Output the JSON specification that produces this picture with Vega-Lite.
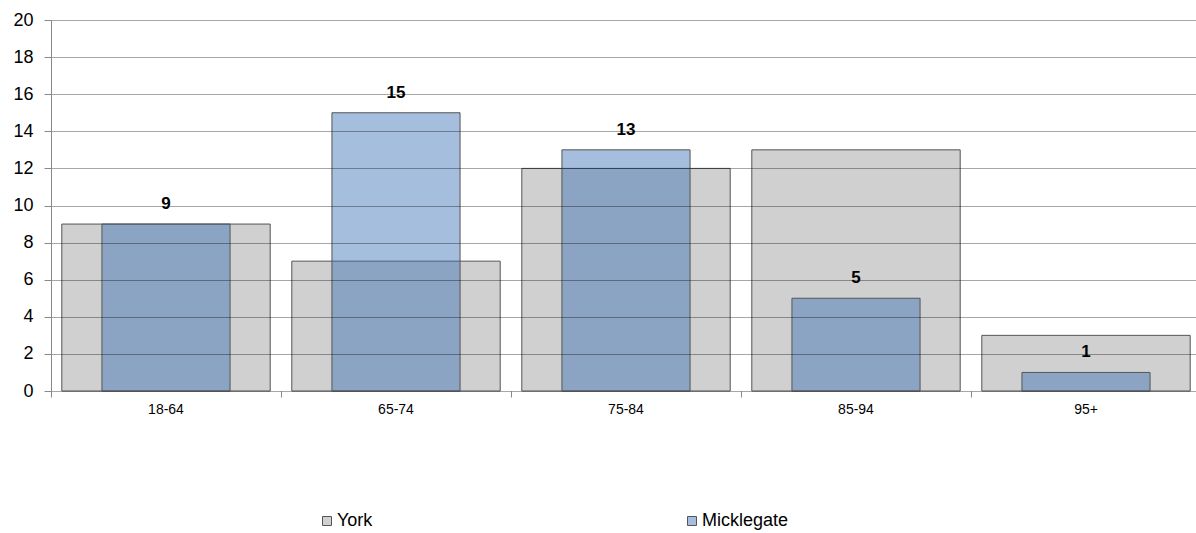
{
  "$schema": "https://vega.github.io/schema/vega-lite/v6.json",
  "autosize": {"type": "none"},
  "width": 1145,
  "height": 371,
  "padding": {"left": 51, "top": 20, "right": 0, "bottom": 142},
  "background": "white",
  "config": {
    "font": "Liberation Sans",
    "view": {"stroke": null}
  },
  "data": {
    "values": [
      {"age": "18-64", "series": "York", "value": 9},
      {"age": "65-74", "series": "York", "value": 7},
      {"age": "75-84", "series": "York", "value": 12},
      {"age": "85-94", "series": "York", "value": 13},
      {"age": "95+", "series": "York", "value": 3},
      {"age": "18-64", "series": "Micklegate", "value": 9},
      {"age": "65-74", "series": "Micklegate", "value": 15},
      {"age": "75-84", "series": "Micklegate", "value": 13},
      {"age": "85-94", "series": "Micklegate", "value": 5},
      {"age": "95+", "series": "Micklegate", "value": 1}
    ]
  },
  "resolve": {"axis": {"x": "independent"}},
  "encoding": {
    "y": {
      "field": "value",
      "type": "quantitative",
      "scale": {"domain": [0, 20], "nice": false},
      "axis": {
        "title": null,
        "values": [0, 2, 4, 6, 8, 10, 12, 14, 16, 18, 20],
        "labelFontSize": 18,
        "labelColor": "#000000",
        "labelPadding": 11,
        "tickSize": 7,
        "tickColor": "#888888",
        "domainColor": "#888888",
        "grid": true,
        "gridColor": "#000000",
        "gridOpacity": 0.35,
        "zindex": 1
      }
    }
  },
  "layer": [
    {
      "transform": [{"filter": "datum.series === 'York'"}],
      "mark": {"type": "bar", "width": {"band": 0.906}, "stroke": "#555555", "strokeWidth": 1, "fillOpacity": 1},
      "encoding": {
        "x": {
          "field": "age",
          "type": "nominal",
          "sort": ["18-64", "65-74", "75-84", "85-94", "95+"],
          "scale": {"paddingInner": 0, "paddingOuter": 0, "range": [0, 1150]},
          "axis": {
            "orient": "bottom",
            "title": null,
            "labelAngle": 0,
            "labelFontSize": 14,
            "labelColor": "#000000",
            "labelPadding": 11,
            "ticks": false,
            "domain": false,
            "grid": false
          }
        },
        "color": {
          "field": "series",
          "type": "nominal",
          "scale": {"domain": ["York", "Micklegate"], "range": ["#d0d0d0", "#a6bedd"]},
          "legend": {
            "title": null,
            "orient": "none",
            "direction": "horizontal",
            "legendX": 267,
            "legendY": 492,
            "symbolType": "square",
            "symbolSize": 81,
            "symbolStrokeColor": "#888888",
            "symbolStrokeWidth": 1,
            "symbolOpacity": 1,
            "labelFontSize": 18,
            "labelColor": "#000000",
            "labelOffset": 1,
            "columnPadding": 310
          }
        }
      }
    },
    {
      "transform": [{"filter": "datum.series === 'Micklegate'"}],
      "mark": {"type": "bar", "width": {"band": 0.557}, "fill": "#396eb3", "fillOpacity": 0.45, "stroke": "#555555", "strokeWidth": 1},
      "encoding": {
        "x": {"field": "age", "type": "nominal", "sort": ["18-64", "65-74", "75-84", "85-94", "95+"], "axis": null},
        "color": {"field": "series", "type": "nominal"}
      }
    },
    {
      "transform": [{"filter": "datum.series === 'Micklegate'"}],
      "mark": {"type": "text", "fontSize": 17, "fontWeight": "bold", "baseline": "alphabetic", "dy": -15, "color": "#000000"},
      "encoding": {
        "x": {
          "field": "age",
          "type": "nominal",
          "sort": ["18-64", "65-74", "75-84", "85-94", "95+"],
          "axis": {
            "orient": "bottom",
            "title": null,
            "labels": false,
            "ticks": true,
            "tickSize": 6,
            "tickColor": "#888888",
            "bandPosition": 0,
            "domain": false,
            "grid": false
          }
        },
        "text": {"field": "value", "type": "quantitative"}
      }
    }
  ]
}
